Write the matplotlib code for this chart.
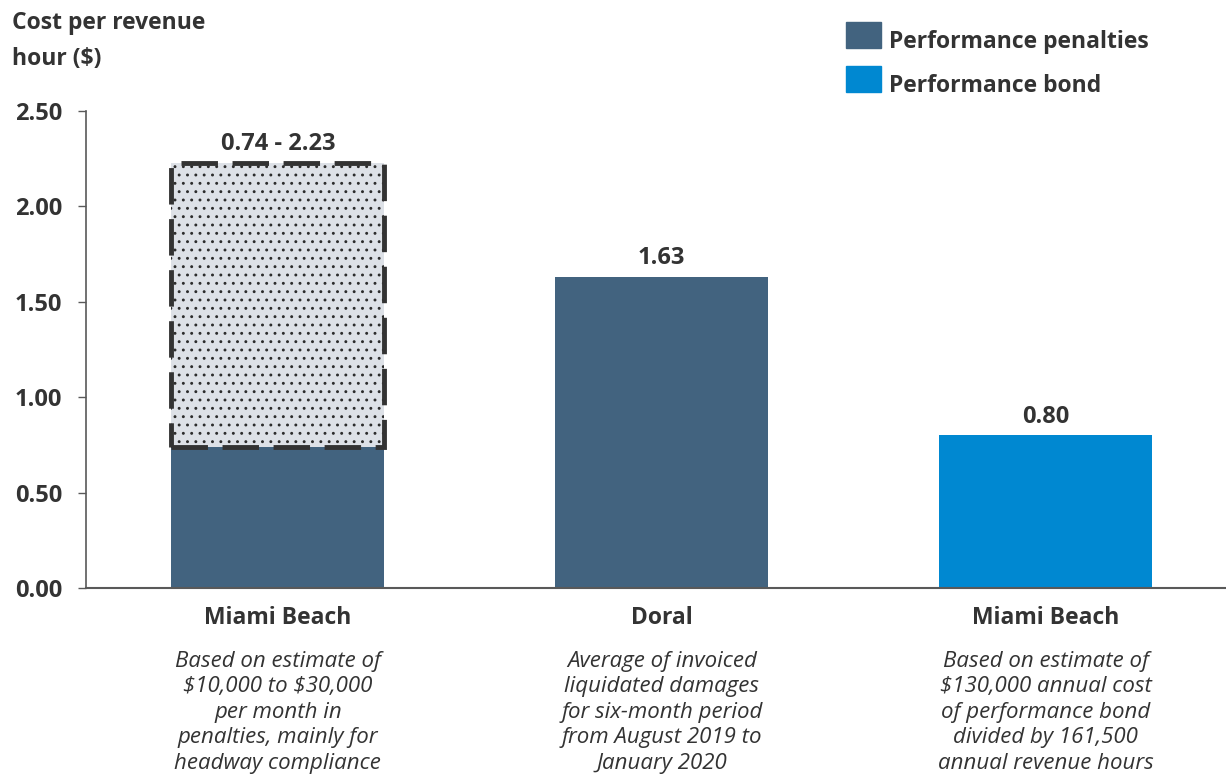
import matplotlib
matplotlib.use('Agg')
import matplotlib.pyplot as plt
import numpy as np

plt.rcParams['font.family'] = ['Open Sans', 'DejaVu Sans']
plt.rcParams['hatch.linewidth'] = 0.9
plt.rcParams['hatch.color'] = '#2b2b2b'

# data
categories = ['Miami Beach', 'Doral', 'Miami Beach']
notes = [
    'Based on estimate of\n\\$10,000 to \\$30,000\nper month in\npenalties, mainly for\nheadway compliance',
    'Average of invoiced\nliquidated damages\nfor six-month period\nfrom August 2019 to\nJanuary 2020',
    'Based on estimate of\n\\$130,000 annual cost\nof performance bond\ndivided by 161,500\nannual revenue hours',
]
values = [0.74, 1.63, 0.80]
range_high = 2.23
value_labels = ['0.74 - 2.23', '1.63', '0.80']
series = ['Performance penalties', 'Performance penalties', 'Performance bond']
yticks = [0.0, 0.5, 1.0, 1.5, 2.0, 2.5]

colors = {'Performance penalties': '#42637f', 'Performance bond': '#0088d1'}
txt = '#333333'

fig = plt.figure(figsize=(12.26, 7.79), dpi=100)
ax = fig.add_axes([86/1226, 1 - 588/779, 1 - 86/1226, (588 - 111)/779])

x = np.arange(len(categories))
w = 0.555
ax.bar(x, values, width=w, color=[colors[s] for s in series], zorder=2)

# estimated range box for first bar
ax.bar(x[0], range_high - values[0], bottom=values[0], width=w,
       facecolor='#dde1e7', edgecolor='#2b2b2b', hatch='..', linewidth=0, zorder=2)
ax.bar(x[0], range_high - values[0], bottom=values[0], width=w,
       facecolor='none', edgecolor='#333333', linewidth=3.5, linestyle=(0, (7.5, 3)), zorder=3)

tops = [range_high, values[1], values[2]]
for xi, t, lab in zip(x, tops, value_labels):
    ax.text(xi, t + 0.035, lab, ha='center', va='bottom', fontsize=17,
            fontweight='bold', color=txt)

ax.set_xlim(-0.5, 2.47)
ax.set_ylim(0, 2.5)
ax.set_yticks(yticks)
ax.set_yticklabels([f'{v:.2f}' for v in yticks], fontsize=17, fontweight='bold', color=txt)
ax.tick_params(axis='y', length=6, width=1, color='#595959', pad=11)
ax.set_xticks([])
for s in ['top', 'right']:
    ax.spines[s].set_visible(False)
ax.spines['left'].set_color('#595959')
ax.spines['bottom'].set_color('#595959')
ax.spines['left'].set_linewidth(1.2)
ax.spines['bottom'].set_linewidth(1.5)

for xi, c, n in zip(x, categories, notes):
    ax.annotate(c, xy=(xi, 0), xycoords=('data', 'axes fraction'),
                xytext=(0, -13), textcoords='offset points', ha='center', va='top',
                fontsize=16.5, fontweight='bold', color=txt, annotation_clip=False)
    ax.annotate(n, xy=(xi, 0), xycoords=('data', 'axes fraction'),
                xytext=(0, -45), textcoords='offset points', ha='center', va='top',
                fontsize=16, fontstyle='italic', color=txt, linespacing=1.29,
                annotation_clip=False)

fig.text(12/1226, 1 - 11/779, 'Cost per revenue\nhour ($)', ha='left', va='top',
         fontsize=16.5, fontweight='bold', color=txt, linespacing=1.68)

# legend
for i, name in enumerate(['Performance penalties', 'Performance bond']):
    y0 = 22 + i * 44
    fig.patches.append(plt.Rectangle((846/1226, 1 - (y0 + 26)/779), 35/1226, 26/779,
                                     transform=fig.transFigure, color=colors[name]))
    fig.text(889/1226, 1 - (y0 + 20)/779, name, ha='left', va='center',
             fontsize=16.5, fontweight='bold', color=txt)

fig.savefig('out.png', dpi=100)
